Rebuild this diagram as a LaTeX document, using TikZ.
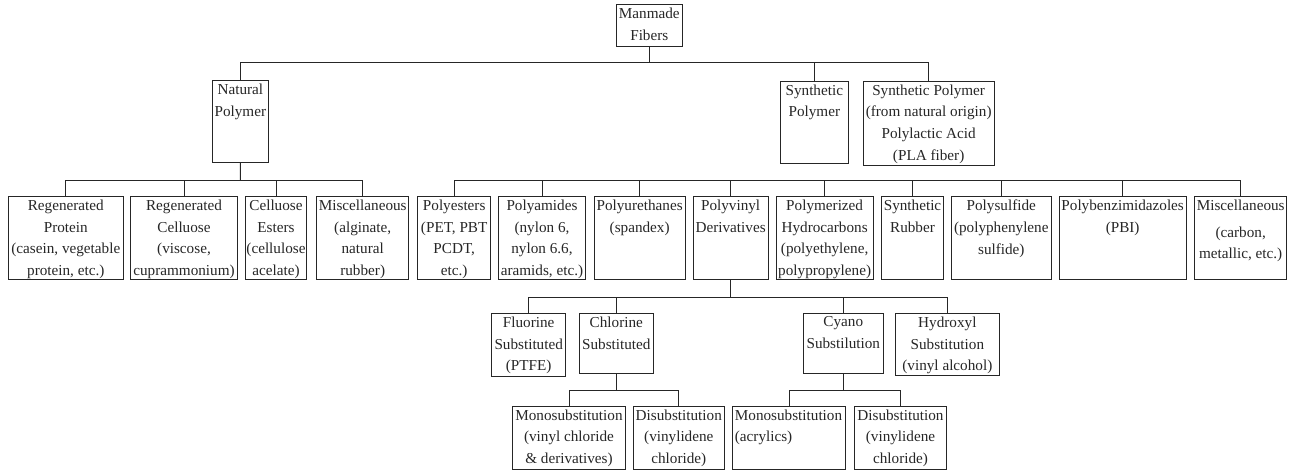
\documentclass[tikz,border=0pt]{standalone}
\usepackage{fontspec}
\setmainfont{Liberation Serif}
\tikzset{
  box/.style={draw=black!85, line width=0.9pt, inner sep=0pt, outer sep=0pt},
  lbl/.style={font=\fontsize{15.2}{21.7}\selectfont, align=center, inner xsep=0pt, inner ysep=3.3pt, text=black!85},
  conn/.style={draw=black!85, line width=0.9pt}
}
\newcommand\bx[6]{%
  \node[box, minimum width={#4-#2}, minimum height={#5-#3}] (#1) at ({(#2+#4)/2},{(#3+#5)/2}) {};
  \node[lbl, anchor=north] (#1-t) at (#1.north) {#6};}
\begin{document}
\begin{tikzpicture}[x=1pt,y=-1pt]
\useasboundingbox (0,0) rectangle (1296,470);
% level 0/1
\bx{mf}{616.3}{4.3}{682.3}{46}{Manmade\\Fibers}
\bx{np}{212}{80.3}{268.7}{162.3}{Natural\\Polymer}
\bx{sp}{780.3}{81}{848.3}{163.3}{Synthetic\\Polymer}
\bx{spn}{863}{81}{994.3}{165}{Synthetic Polymer\\(from natural origin)\\Polylactic Acid\\(PLA fiber)}
% level 2
\bx{rp}{8.3}{196.5}{123.3}{279.5}{Regenerated\\Protein\\(casein, vegetable\\protein, etc.)}
\bx{rc}{130.7}{196.5}{237.3}{279.5}{Regenerated\\Celluose\\(viscose,\\cuprammonium)}
\bx{ce}{245.3}{196.5}{306.7}{279.5}{Celluose\\Esters\\(cellulose\\acelate)}
\bx{mia}{316.7}{196.5}{408.7}{279.5}{Miscellaneous\\(alginate,\\natural\\rubber)}
\bx{pe}{417.7}{196.5}{490.7}{279.5}{Polyesters\\(PET, PBT\\PCDT,\\etc.)}
\bx{pa}{498.7}{196.5}{585.3}{279.5}{Polyamides\\(nylon 6,\\nylon 6.6,\\aramids, etc.)}
\bx{pu}{594}{196.5}{685.3}{279.5}{Polyurethanes\\(spandex)}
\bx{pv}{693.3}{196.5}{768}{279.5}{Polyvinyl\\Derivatives}
\bx{ph}{776}{196.5}{873.3}{279.5}{Polymerized\\Hydrocarbons\\(polyethylene,\\polypropylene)}
\bx{sr}{881.3}{196.5}{943.7}{279.5}{Synthetic\\Rubber}
\bx{ps}{951.3}{196.5}{1051.3}{279.5}{Polysulfide\\(polyphenylene\\sulfide)}
\bx{pb}{1059.3}{196.5}{1186}{279.5}{Polybenzimidazoles\\(PBI)}
\bx{mib}{1194.7}{196.5}{1286.7}{279.5}{Miscellaneous\\[5pt](carbon,\\metallic, etc.)}
% level 3
\bx{fs}{491.7}{313.3}{565.7}{376}{Fluorine\\Substituted\\(PTFE)}
\bx{cs}{579.3}{313.3}{653.3}{373.7}{Chlorine\\Substituted}
\bx{cy}{803.3}{313.3}{883.3}{373.3}{Cyano\\Substilution}
\bx{hy}{895.7}{313.5}{999}{375.7}{Hydroxyl\\Substitution\\(vinyl alcohol)}
% level 4
\bx{ma}{512.7}{406}{625.3}{469}{Monosubstitution\\(vinyl chloride\\\& derivatives)}
\bx{da}{633.3}{406}{724.3}{469}{Disubstitution\\(vinylidene\\chloride)}
\node[box, minimum width={845.3-732.7}, minimum height={469-406}] (mb) at ({(732.7+845.3)/2},{(406+469)/2}) {};
\node[lbl, align=left, anchor=north west] (mb-t) at ([xshift=2pt]mb.north west) {Monosubstitution\\(acrylics)};
\bx{db}{854.7}{406}{946.3}{469}{Disubstitution\\(vinylidene\\chloride)}
% buses
\coordinate (b0) at (649.3,62.3);
\coordinate (b1) at (240.35,180);
\coordinate (b3) at (730.65,297);
\coordinate (b4) at (616.3,390);
\coordinate (b5) at (843.3,390);
\draw[conn] (mf.south) -- (b0);
\draw[conn] (b0) -| (np.north);
\draw[conn] (b0) -| (sp.north);
\draw[conn] (b0) -| (spn.north);
\draw[conn] (np.south) -- (b1);
\foreach \c in {rp,rc,ce,mia}{\draw[conn] (b1) -| (\c.north);}
\draw[conn] (pe.north |- b1) -- (mib.north |- b1);
\foreach \c in {pe,pa,pu,pv,ph,sr,ps,pb,mib}{\draw[conn] (\c.north) -- (\c.north |- b1);}
\draw[conn] (pv.south) -- (b3);
\foreach \c in {fs,cs,cy,hy}{\draw[conn] (b3) -| (\c.north);}
\draw[conn] (cs.south) -- (b4);
\foreach \c in {ma,da}{\draw[conn] (b4) -| (\c.north);}
\draw[conn] (cy.south) -- (b5);
\foreach \c in {mb,db}{\draw[conn] (b5) -| (\c.north);}
\end{tikzpicture}
\end{document}
